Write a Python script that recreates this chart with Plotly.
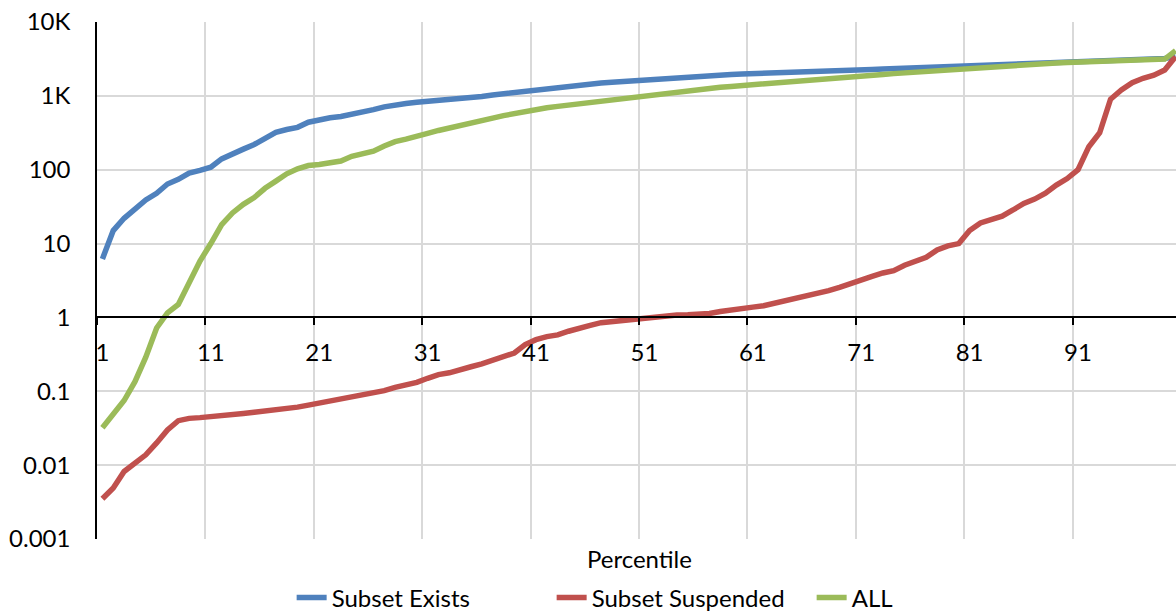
import plotly.graph_objects as go

percentiles = list(range(1, 101))

subset_exists = [
    6.2, 15, 22, 30, 39, 48, 64, 74, 90, 98,
    108, 140, 160, 190, 220, 270, 320, 350, 375, 440,
    480, 505, 525, 560, 590, 650, 710, 760, 790, 820,
    840, 870, 890, 910, 940, 980, 1030, 1070, 1110, 1150,
    1190, 1250, 1300, 1380, 1420, 1460, 1490, 1530, 1570, 1600,
    1630, 1680, 1730, 1760, 1780, 1850, 1890, 1930, 1950, 1980,
    2010, 2040, 2060, 2080, 2100, 2120, 2150, 2180, 2200, 2230,
    2250, 2280, 2310, 2340, 2370, 2400, 2430, 2460, 2520, 2580,
    2620, 2660, 2700, 2740, 2780, 2820, 2860, 2890, 2920, 2950,
    2970, 3000, 3020, 3050, 3070, 3100, 3130, 3160, 3200, 3400,
]

subset_suspended = [
    0.0035, 0.0049, 0.0082, 0.0105, 0.0138, 0.020, 0.030, 0.040, 0.043, 0.044,
    0.045, 0.047, 0.048, 0.050, 0.052, 0.054, 0.055, 0.057, 0.061, 0.065,
    0.069, 0.074, 0.079, 0.083, 0.087, 0.095, 0.102, 0.113, 0.12, 0.132,
    0.15, 0.168, 0.178, 0.20, 0.215, 0.235, 0.26, 0.29, 0.33, 0.43,
    0.50, 0.55, 0.58, 0.65, 0.70, 0.78, 0.85, 0.88, 0.91, 0.94,
    0.98, 1.04, 1.07, 1.08, 1.09, 1.10, 1.13, 1.20, 1.27, 1.31,
    1.38, 1.44, 1.55, 1.73, 1.86, 1.95, 2.1, 2.3, 2.55, 2.9,
    3.3, 3.6, 4.0, 4.3, 5.1, 5.7, 6.5, 8.2, 9.3, 10.0,
    15, 19, 21, 23.5, 28.5, 35, 40, 48, 62, 76,
    100, 205, 316, 900, 1200, 1510, 1730, 1900, 2240, 3400,
]

all_values = [
    0.032, 0.048, 0.075, 0.135, 0.29, 0.72, 1.15, 1.5, 2.9, 5.8,
    10, 18, 26, 34, 42, 56, 70, 88, 103, 114,
    118, 126, 131, 152, 167, 178, 210, 240, 260, 290,
    310, 340, 370, 400, 440, 470, 500, 540, 580, 620,
    650, 690, 720, 750, 780, 820, 860, 890, 930, 980,
    1020, 1060, 1100, 1150, 1200, 1240, 1270, 1310, 1340, 1380,
    1420, 1460, 1510, 1560, 1600, 1650, 1700, 1730, 1770, 1810,
    1850, 1900, 1950, 2000, 2050, 2100, 2150, 2200, 2250, 2300,
    2350, 2400, 2450, 2500, 2560, 2620, 2680, 2740, 2790, 2840,
    2880, 2920, 2960, 3000, 3030, 3060, 3090, 3120, 3150, 4100,
]

y_tickvals = [0.001, 0.01, 0.1, 1, 10, 100, 1000, 10000]
y_ticktext = ["0.001", "0.01", "0.1", "1", "10", "100", "1K", "10K"]

series = [
    ("Subset Exists", subset_exists, "#4F81BD"),
    ("Subset Suspended", subset_suspended, "#C0504D"),
    ("ALL", all_values, "#9BBB59"),
]

FONT = "Lato, 'Open Sans', sans-serif"

fig = go.Figure()
for name, vals, color in series:
    fig.add_trace(go.Scatter(
        x=percentiles, y=vals, name=name, mode="lines",
        line=dict(color=color, width=5.5),
    ))

fig.update_layout(
    width=1176, height=612,
    margin=dict(l=97, r=0, t=22, b=73, autoexpand=False),
    paper_bgcolor="white", plot_bgcolor="white",
    font=dict(family=FONT, size=24, color="black"),
    showlegend=True,
    legend=dict(
        orientation="h", xref="container", yref="container",
        x=0.248, xanchor="left", y=0.023, yanchor="middle",
        entrywidth=215,
        font=dict(size=24), bgcolor="rgba(0,0,0,0)",
    ),
    annotations=[dict(
        text="Percentile", xref="paper", yref="paper", x=0.503, y=-0.037,
        xanchor="center", yanchor="middle", showarrow=False,
        font=dict(size=24, family=FONT),
    )],
)

fig.update_xaxes(
    range=[0.5, 100.04],
    anchor="free", position=3 / 7,
    tick0=1, dtick=10, ticks="", showgrid=False,
    showline=True, linecolor="black", linewidth=1.5,
    zeroline=False, ticklabelstandoff=14,
    minor=dict(tick0=0.5, dtick=10, ticks="outside", ticklen=7,
               tickcolor="black", tickwidth=1.5,
               showgrid=True, gridcolor="#D9D9D9", gridwidth=1.5),
)

fig.update_yaxes(
    type="log", range=[-3, 4],
    tickvals=y_tickvals, ticktext=y_ticktext,
    showgrid=True, gridcolor="#D9D9D9", gridwidth=1.5,
    showline=True, linecolor="black", linewidth=1.5,
    ticks="", ticklabelstandoff=20, zeroline=False,
)

fig.write_html(
    "out.html",
    config={"displayModeBar": False},
    post_script="document.body.style.margin='0';document.body.style.overflow='hidden';",
)
